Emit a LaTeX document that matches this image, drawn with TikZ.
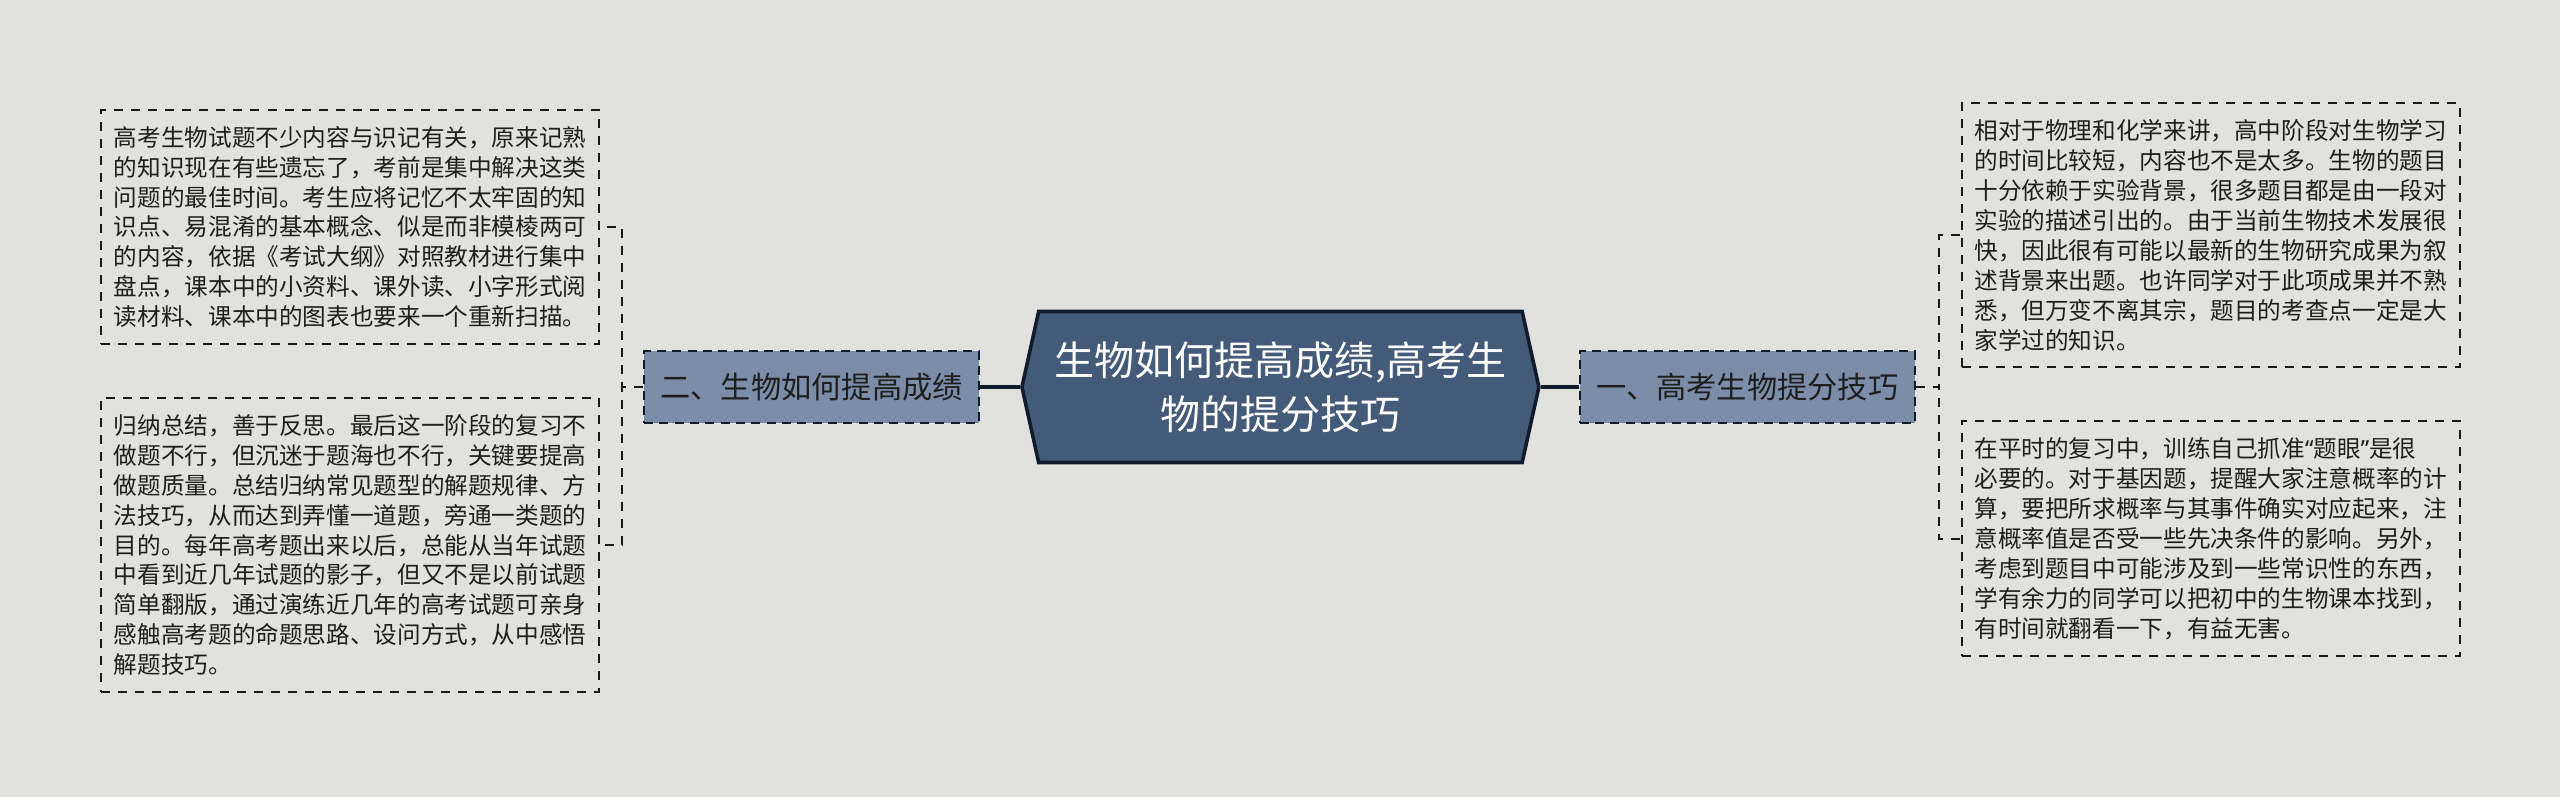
\documentclass[tikz,border=0pt]{standalone}
\usepackage{fontspec}
\setmainfont{Noto Sans CJK SC}
\newfontfamily\quotefont{Noto Sans}
\usepackage{xcolor}
\usepackage{tikz}
\usetikzlibrary{positioning, shapes.symbols}

\definecolor{bgcol}{HTML}{E1E2DE}
\definecolor{titlefill}{HTML}{435A78}
\definecolor{titleline}{HTML}{101B2B}
\definecolor{branchfill}{HTML}{7B8DA9}
\definecolor{inkcol}{HTML}{1E1E1E}

\begin{document}
\begin{tikzpicture}[
    title/.style={signal, signal to=west and east, signal pointer angle=155, draw=titleline, line width=2.5pt, fill=titlefill, text=white, align=center, minimum width=12.925cm, minimum height=3.775cm, font=\fontsize{28.5}{38.4}\selectfont},
    branch/.style={rectangle, draw=titleline, dash pattern=on 6.4pt off 4.5pt, line width=1.4pt, fill=branchfill, text=inkcol, minimum width=8.375cm, minimum height=1.8cm, font=\fontsize{21.5}{26}\selectfont},
    leaf/.style={rectangle, draw=black!90, dash pattern=on 6.4pt off 5.7pt, line width=1.4pt, text=inkcol, align=left, inner xsep=9pt, inner ysep=11.5pt, minimum width=12.45cm, font=\fontsize{16.8}{21.3}\selectfont},
    trunk/.style={line width=2.4pt, draw=titleline},
    twig/.style={line width=1.4pt, draw=black!90, dash pattern=on 6.4pt off 5.7pt},
]
    % Canvas
    \fill[bgcol] (0,0) rectangle (64,-19.925);
    \useasboundingbox (0,0) rectangle (64,-19.925);

    % Centre topic
    \node[title] (title) at (32.01,-9.675) {生物如何提高成绩,高考生\\物的提分技巧};

    % Branches
    \node[branch, left=1.0cm of title] (lbranch) {二、生物如何提高成绩};
    \node[branch, right=0.95cm of title] (rbranch) {一、高考生物提分技巧};

    % Left leaves
    \node[leaf, left=1.075cm of lbranch, yshift=4cm] (lbox1) {高考生物试题不少内容与识记有关，原来记熟\\的知识现在有些遗忘了，考前是集中解决这类\\问题的最佳时间。考生应将记忆不太牢固的知\\识点、易混淆的基本概念、似是而非模棱两可\\的内容，依据《考试大纲》对照教材进行集中\\盘点，课本中的小资料、课外读、小字形式阅\\读材料、课本中的图表也要来一个重新扫描。};
    \node[leaf, left=1.075cm of lbranch, yshift=-3.95cm] (lbox2) {归纳总结，善于反思。最后这一阶段的复习不\\做题不行，但沉迷于题海也不行，关键要提高\\做题质量。总结归纳常见题型的解题规律、方\\法技巧，从而达到弄懂一道题，旁通一类题的\\目的。每年高考题出来以后，总能从当年试题\\中看到近几年试题的影子，但又不是以前试题\\简单翻版，通过演练近几年的高考试题可亲身\\感触高考题的命题思路、设问方式，从中感悟\\解题技巧。};

    % Right leaves
    \node[leaf, right=1.125cm of rbranch, yshift=3.79cm] (rbox1) {相对于物理和化学来讲，高中阶段对生物学习\\的时间比较短，内容也不是太多。生物的题目\\十分依赖于实验背景，很多题目都是由一段对\\实验的描述引出的。由于当前生物技术发展很\\快，因此很有可能以最新的生物研究成果为叙\\述背景来出题。也许同学对于此项成果并不熟\\悉，但万变不离其宗，题目的考查点一定是大\\家学过的知识。};
    \node[leaf, right=1.125cm of rbranch, yshift=-3.79cm] (rbox2) {在平时的复习中，训练自己抓准{\quotefont “}题眼{\quotefont ”}是很\\必要的。对于基因题，提醒大家注意概率的计\\算，要把所求概率与其事件确实对应起来，注\\意概率值是否受一些先决条件的影响。另外，\\考虑到题目中可能涉及到一些常识性的东西，\\学有余力的同学可以把初中的生物课本找到，\\有时间就翻看一下，有益无害。};

    % Links
    \draw[trunk] (title.west) -- (lbranch.east);
    \draw[trunk] (title.east) -- (rbranch.west);
    \draw[twig] (lbranch.west) -- ++(-0.525,0) |- (lbox1.east);
    \draw[twig] (lbranch.west) -- ++(-0.525,0) |- (lbox2.east);
    \draw[twig] (rbranch.east) -- ++(0.575,0) |- (rbox1.west);
    \draw[twig] (rbranch.east) -- ++(0.575,0) |- (rbox2.west);

\end{tikzpicture}
\end{document}
